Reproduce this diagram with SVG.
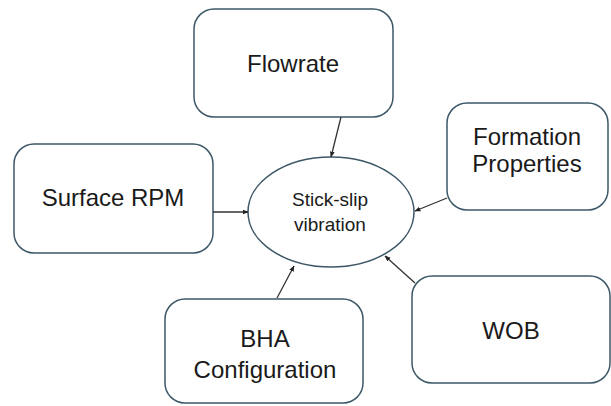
<svg xmlns="http://www.w3.org/2000/svg" width="611" height="406" viewBox="0 0 611 406">
<style>
.box{fill:#fff;stroke:#3d5868;stroke-width:1.5}
.lbl{font-family:"Liberation Sans","Arial",sans-serif;font-size:24px;fill:#1a1a1a;text-anchor:middle}
.sm{font-size:19px}
.conn{stroke:#333;stroke-width:1.3;fill:none;marker-end:url(#ah)}
</style>
<defs>
<marker id="ah" viewBox="0 0 10 10" refX="9" refY="5" markerWidth="6" markerHeight="6" orient="auto" markerUnits="userSpaceOnUse">
<path d="M0,1 L10,5 L0,9 z" fill="#222"/>
</marker>
</defs>
<rect width="611" height="406" fill="#fff"/>
<g id="flowrate"><rect class="box" x="194" y="9" width="199" height="108" rx="20"/><text class="lbl" x="293" y="72">Flowrate</text></g>
<g id="surface-rpm"><rect class="box" x="14" y="144" width="199" height="109" rx="20"/><text class="lbl" x="113" y="206">Surface RPM</text></g>
<g id="formation"><rect class="box" x="447" y="103" width="161" height="107" rx="20"/><text class="lbl" x="527" y="145">Formation</text><text class="lbl" x="527" y="172">Properties</text></g>
<g id="bha"><rect class="box" x="165" y="299" width="198" height="104" rx="20"/><text class="lbl" x="265" y="347">BHA</text><text class="lbl" x="265" y="378">Configuration</text></g>
<g id="wob"><rect class="box" x="412" y="276" width="198" height="107" rx="20"/><text class="lbl" x="511" y="339">WOB</text></g>
<g id="stick-slip"><ellipse class="box" cx="331" cy="212" rx="83" ry="55"/><text class="lbl sm" x="330" y="206">Stick-slip</text><text class="lbl sm" x="330" y="231">vibration</text></g>
<g id="connectors">
<line class="conn" x1="341" y1="117" x2="331" y2="157"/>
<line class="conn" x1="213" y1="212" x2="248" y2="212"/>
<line class="conn" x1="447" y1="198" x2="415" y2="211"/>
<line class="conn" x1="277" y1="298" x2="294" y2="266"/>
<line class="conn" x1="415" y1="283" x2="385" y2="256"/>
</g>
</svg>
